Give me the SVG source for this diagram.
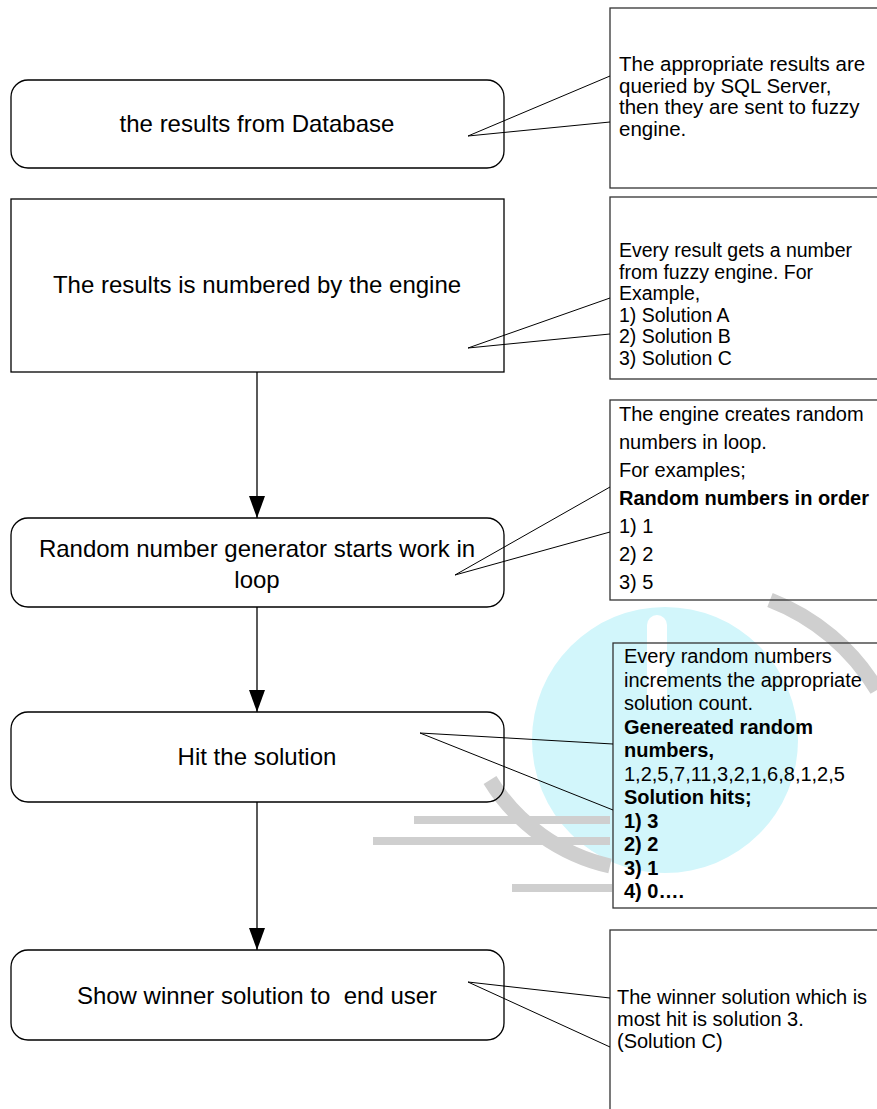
<svg xmlns="http://www.w3.org/2000/svg" width="877" height="1109" viewBox="0 0 877 1109">
<style>
.box{fill:none;stroke:#000;stroke-width:1.3}
.call{fill:none;stroke:#333;stroke-width:1.3}
.ptr{fill:none;stroke:#000;stroke-width:1}
.nt{font-family:"Liberation Sans",Arial,sans-serif;font-size:24px;fill:#000;text-anchor:middle}
.ct{font-family:"Liberation Sans",Arial,sans-serif;font-size:20px;fill:#000}
.b{font-weight:bold}
.edge{stroke:#000;stroke-width:1.3;fill:none}
.wm-g{fill:none;stroke:#cfcfcf;stroke-width:15}
.bar{fill:#cfcfcf}
</style>
<defs>
<marker id="arr" viewBox="0 0 22 16" markerWidth="22" markerHeight="16" refX="22" refY="8" orient="auto" markerUnits="userSpaceOnUse">
<path d="M0,0 L22,8 L0,16 Z" fill="#000"/>
</marker>
</defs>
<rect width="877" height="1109" fill="#fff"/>
<g id="watermark">
<circle cx="665" cy="740" r="133" fill="#d2f6fb"/>
<path d="M657,625 L657,700" stroke="#fff" stroke-width="20" stroke-linecap="round"/>
<path class="wm-g" d="M770,600 A215,215 0 0 1 877,690"/>
<path class="wm-g" d="M490,780 A190,190 0 0 0 610,866"/>
<rect class="bar" x="414" y="816" width="196" height="8"/>
<rect class="bar" x="373" y="837" width="237" height="8"/>
<rect class="bar" x="512" y="884" width="100" height="8"/>
</g>
<g id="connectors">
<line class="edge" x1="257" y1="372" x2="257" y2="518" marker-end="url(#arr)"/>
<line class="edge" x1="257" y1="607" x2="257" y2="712" marker-end="url(#arr)"/>
<line class="edge" x1="257" y1="802" x2="257" y2="950" marker-end="url(#arr)"/>
</g>
<g id="node1">
<rect class="box" x="11" y="80" width="493" height="88" rx="17"/>
<text class="nt" x="257" y="132">the results from Database</text>
</g>
<g id="node2">
<rect class="box" x="11" y="199" width="493" height="173"/>
<text class="nt" x="257" y="293">The results is numbered by the engine</text>
</g>
<g id="node3">
<rect class="box" x="11" y="518" width="493" height="89" rx="17"/>
<text class="nt" x="257" y="557">Random number generator starts work in</text>
<text class="nt" x="257" y="588">loop</text>
</g>
<g id="node4">
<rect class="box" x="11" y="712" width="493" height="90" rx="17"/>
<text class="nt" x="257" y="765">Hit the solution</text>
</g>
<g id="node5">
<rect class="box" x="11" y="950" width="493" height="90" rx="17"/>
<text class="nt" x="257" y="1004" xml:space="preserve">Show winner solution to  end user</text>
</g>
<g id="callout1">
<rect class="call" x="610" y="8" width="268" height="180"/>
<polyline class="ptr" points="610,76 468,136 610,122"/>
<text class="ct" x="619" y="71" style="font-size:20.5px">The appropriate results are</text>
<text class="ct" x="619" y="93" style="font-size:20.5px">queried by SQL Server,</text>
<text class="ct" x="619" y="114" style="font-size:20.5px">then they are sent to fuzzy</text>
<text class="ct" x="619" y="136" style="font-size:20.5px">engine.</text>
</g>
<g id="callout2">
<rect class="call" x="610" y="197" width="268" height="182"/>
<polyline class="ptr" points="610,298 468,348 610,334"/>
<text class="ct" x="619" y="257" style="font-size:19.5px">Every result gets a number</text>
<text class="ct" x="619" y="279" style="font-size:19.5px">from fuzzy engine. For</text>
<text class="ct" x="619" y="300" style="font-size:19.5px">Example,</text>
<text class="ct" x="619" y="322" style="font-size:19.5px">1) Solution A</text>
<text class="ct" x="619" y="343" style="font-size:19.5px">2) Solution B</text>
<text class="ct" x="619" y="365" style="font-size:19.5px">3) Solution C</text>
</g>
<g id="callout3">
<rect class="call" x="610" y="400" width="268" height="200"/>
<polyline class="ptr" points="610,487 455,575 610,532"/>
<text class="ct" x="619" y="421">The engine creates random</text>
<text class="ct" x="619" y="449">numbers in loop.</text>
<text class="ct" x="619" y="477">For examples;</text>
<text class="ct b" x="619" y="505">Random numbers in order</text>
<text class="ct" x="619" y="533">1) 1</text>
<text class="ct" x="619" y="561">2) 2</text>
<text class="ct" x="619" y="589">3) 5</text>
</g>
<g id="callout4">
<rect class="call" x="613" y="643" width="265" height="265"/>
<polyline class="ptr" points="613,744 420,733 613,810"/>
<text class="ct" x="624" y="663">Every random numbers</text>
<text class="ct" x="624" y="687">increments the appropriate</text>
<text class="ct" x="624" y="710">solution count.</text>
<text class="ct b" x="624" y="734">Genereated random</text>
<text class="ct b" x="624" y="757">numbers,</text>
<text class="ct" x="624" y="781">1,2,5,7,11,3,2,1,6,8,1,2,5</text>
<text class="ct b" x="624" y="804">Solution hits;</text>
<text class="ct b" x="624" y="828">1) 3</text>
<text class="ct b" x="624" y="851">2) 2</text>
<text class="ct b" x="624" y="875">3) 1</text>
<text class="ct b" x="624" y="898">4) 0….</text>
</g>
<g id="callout5">
<rect class="call" x="610" y="930" width="268" height="190"/>
<polyline class="ptr" points="610,998 468,982 610,1047"/>
<text class="ct" x="617" y="1004">The winner solution which is</text>
<text class="ct" x="617" y="1026">most hit is solution 3.</text>
<text class="ct" x="617" y="1048">(Solution C)</text>
</g>
</svg>
